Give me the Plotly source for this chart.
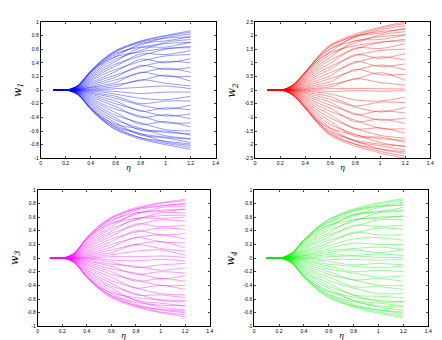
import plotly.graph_objects as go
from plotly.subplots import make_subplots

ETA = [0.1, 0.22, 0.3, 0.4, 0.5, 0.6, 0.8, 1.0, 1.2]

W1 = [
    [0, .005, .07, .28, .45, .58, .72, .80, .87],
    [0, .005, .07, .28, .45, .57, .70, .76, .78],
    [0, .005, .068, .27, .43, .54, .63, .68, .70],
    [0, .004, .066, .26, .40, .49, .56, .61, .62],
    [0, .004, .065, .27, .43, .56, .71, .79, .85],
    [0, .004, .06, .25, .41, .52, .66, .77, .82],
    [0, .004, .055, .23, .38, .49, .68, .72, .78],
    [0, .003, .05, .21, .35, .45, .58, .70, .74],
    [0, .003, .045, .19, .32, .42, .62, .63, .70],
    [0, .003, .04, .17, .29, .38, .50, .60, .64],
    [0, .002, .035, .15, .26, .35, .53, .52, .58],
    [0, .002, .03, .13, .23, .30, .42, .50, .52],
    [0, .002, .025, .11, .19, .27, .45, .40, .46],
    [0, .001, .02, .09, .16, .22, .34, .42, .40],
    [0, .001, .018, .07, .13, .19, .36, .30, .33],
    [0, .001, .014, .05, .10, .15, .25, .32, .26],
    [0, .001, .01, .04, .07, .11, .26, .20, .20],
    [0, 0, .007, .03, .05, .08, .14, .22, .13],
    [0, 0, .004, .015, .03, .05, .15, .10, .06],
    [0, 0, .002, .005, .01, .02, .04, .06, .02],
    [0, 0, -.002, -.006, -.01, -.02, -.05, -.03, -.03],
    [0, 0, -.004, -.016, -.03, -.06, -.12, -.14, -.09],
    [0, 0, -.007, -.03, -.06, -.09, -.20, -.16, -.16],
    [0, -.001, -.01, -.045, -.08, -.12, -.22, -.28, -.22],
    [0, -.001, -.014, -.06, -.11, -.16, -.31, -.26, -.29],
    [0, -.001, -.018, -.08, -.14, -.20, -.30, -.38, -.35],
    [0, -.002, -.022, -.10, -.17, -.24, -.40, -.36, -.42],
    [0, -.002, -.027, -.12, -.21, -.28, -.38, -.48, -.48],
    [0, -.002, -.032, -.14, -.24, -.33, -.50, -.46, -.54],
    [0, -.003, -.037, -.16, -.28, -.37, -.48, -.58, -.60],
    [0, -.003, -.042, -.18, -.31, -.41, -.59, -.60, -.66],
    [0, -.003, -.047, -.20, -.34, -.44, -.56, -.67, -.71],
    [0, -.004, -.052, -.22, -.37, -.48, -.66, -.70, -.77],
    [0, -.004, -.058, -.24, -.40, -.52, -.64, -.76, -.81],
    [0, -.004, -.063, -.26, -.43, -.55, -.70, -.78, -.84],
    [0, -.004, -.066, -.26, -.41, -.50, -.57, -.62, -.64],
    [0, -.005, -.068, -.27, -.43, -.54, -.64, -.69, -.72],
    [0, -.005, -.07, -.28, -.45, -.57, -.70, -.75, -.79],
    [0, -.005, -.07, -.28, -.45, -.58, -.72, -.80, -.87],
]

W2 = [
    [0, .01, .18, .66, 1.22, 1.66, 2.05, 2.30, 2.50],
    [0, .01, .18, .66, 1.20, 1.62, 1.98, 2.14, 2.22],
    [0, .01, .18, .65, 1.16, 1.52, 1.80, 1.96, 2.02],
    [0, .01, .17, .63, 1.08, 1.38, 1.62, 1.76, 1.80],
    [0, .01, .17, .63, 1.17, 1.60, 2.00, 2.26, 2.44],
    [0, .01, .16, .59, 1.10, 1.50, 1.94, 2.20, 2.36],
    [0, .009, .15, .55, 1.02, 1.40, 1.96, 2.08, 2.26],
    [0, .008, .14, .51, .95, 1.30, 1.72, 2.02, 2.14],
    [0, .008, .13, .47, .88, 1.20, 1.80, 1.85, 2.02],
    [0, .007, .12, .43, .80, 1.10, 1.50, 1.74, 1.86],
    [0, .006, .10, .38, .72, .98, 1.54, 1.52, 1.70],
    [0, .005, .09, .34, .63, .86, 1.26, 1.45, 1.50],
    [0, .004, .08, .29, .54, .76, 1.30, 1.16, 1.34],
    [0, .004, .06, .25, .45, .64, 1.00, 1.22, 1.10],
    [0, .003, .05, .20, .36, .52, 1.04, .86, .96],
    [0, .002, .04, .15, .28, .42, .72, .92, .74],
    [0, .002, .03, .11, .20, .30, .76, .56, .58],
    [0, .001, .02, .07, .13, .20, .40, .64, .36],
    [0, .001, .01, .04, .07, .12, .42, .28, .18],
    [0, 0, .005, .015, .03, .05, .06, .05, .04],
    [0, 0, -.005, -.015, -.03, -.05, -.02, -.04, -.02],
    [0, -.001, -.01, -.04, -.08, -.14, -.36, -.40, -.26],
    [0, -.002, -.02, -.08, -.15, -.24, -.58, -.44, -.46],
    [0, -.002, -.03, -.12, -.22, -.34, -.62, -.80, -.64],
    [0, -.003, -.04, -.16, -.30, -.44, -.90, -.76, -.84],
    [0, -.004, -.05, -.21, -.38, -.55, -.86, -1.10, -1.02],
    [0, -.004, -.06, -.26, -.47, -.66, -1.16, -1.06, -1.22],
    [0, -.005, -.08, -.30, -.56, -.78, -1.10, -1.40, -1.42],
    [0, -.006, -.09, -.35, -.65, -.90, -1.42, -1.38, -1.58],
    [0, -.007, -.11, -.40, -.74, -1.02, -1.40, -1.66, -1.76],
    [0, -.008, -.12, -.45, -.83, -1.14, -1.70, -1.72, -1.92],
    [0, -.008, -.14, -.50, -.92, -1.26, -1.62, -1.92, -2.06],
    [0, -.009, -.15, -.54, -1.00, -1.38, -1.88, -2.04, -2.20],
    [0, -.01, -.16, -.58, -1.08, -1.48, -1.86, -2.16, -2.32],
    [0, -.01, -.17, -.62, -1.16, -1.58, -1.98, -2.24, -2.42],
    [0, -.01, -.17, -.63, -1.10, -1.40, -1.64, -1.78, -1.84],
    [0, -.01, -.18, -.65, -1.17, -1.54, -1.84, -1.98, -2.06],
    [0, -.01, -.18, -.66, -1.20, -1.62, -1.98, -2.16, -2.26],
    [0, -.01, -.18, -.66, -1.22, -1.66, -2.05, -2.30, -2.50],
]

W3 = [
    [0, .005, .075, .30, .47, .60, .74, .81, .86],
    [0, .005, .075, .30, .47, .59, .72, .77, .79],
    [0, .005, .073, .29, .45, .56, .66, .70, .71],
    [0, .004, .07, .28, .42, .51, .58, .62, .63],
    [0, .004, .07, .28, .45, .58, .72, .80, .84],
    [0, .004, .065, .26, .42, .54, .70, .76, .80],
    [0, .004, .06, .24, .39, .50, .64, .74, .76],
    [0, .003, .055, .22, .36, .46, .66, .68, .72],
    [0, .003, .05, .20, .33, .43, .56, .66, .66],
    [0, .003, .045, .18, .30, .39, .58, .58, .60],
    [0, .002, .04, .16, .27, .36, .48, .56, .54],
    [0, .002, .035, .14, .24, .32, .50, .46, .48],
    [0, .002, .03, .12, .20, .28, .38, .44, .42],
    [0, .001, .025, .10, .17, .24, .40, .34, .36],
    [0, .001, .02, .08, .14, .20, .30, .34, .28],
    [0, .001, .015, .06, .11, .16, .30, .24, .22],
    [0, .001, .01, .045, .08, .12, .20, .24, .15],
    [0, 0, .007, .03, .055, .08, .20, .14, .10],
    [0, 0, .004, .015, .03, .05, .10, .12, .04],
    [0, 0, .002, .005, .01, .02, .02, .03, .01],
    [0, 0, -.002, -.006, -.012, -.03, -.04, -.02, -.04],
    [0, 0, -.004, -.016, -.03, -.06, -.14, -.10, -.08],
    [0, 0, -.007, -.03, -.06, -.09, -.12, -.18, -.14],
    [0, -.001, -.01, -.045, -.08, -.12, -.24, -.20, -.22],
    [0, -.001, -.014, -.06, -.11, -.16, -.22, -.30, -.26],
    [0, -.001, -.018, -.08, -.14, -.20, -.34, -.30, -.34],
    [0, -.002, -.022, -.10, -.17, -.24, -.32, -.40, -.40],
    [0, -.002, -.027, -.12, -.21, -.28, -.44, -.40, -.46],
    [0, -.002, -.032, -.14, -.24, -.33, -.44, -.52, -.54],
    [0, -.003, -.037, -.16, -.28, -.37, -.54, -.54, -.58],
    [0, -.003, -.042, -.18, -.31, -.41, -.52, -.62, -.64],
    [0, -.003, -.047, -.20, -.34, -.44, -.62, -.66, -.70],
    [0, -.004, -.052, -.22, -.37, -.48, -.62, -.72, -.76],
    [0, -.004, -.058, -.24, -.40, -.52, -.68, -.76, -.80],
    [0, -.004, -.063, -.26, -.43, -.55, -.70, -.79, -.83],
    [0, -.004, -.066, -.27, -.42, -.51, -.58, -.61, -.62],
    [0, -.005, -.068, -.28, -.44, -.55, -.65, -.69, -.70],
    [0, -.005, -.07, -.28, -.45, -.57, -.70, -.75, -.78],
    [0, -.005, -.07, -.28, -.45, -.58, -.72, -.80, -.86],
]

W4 = [
    [0, .005, .07, .27, .44, .57, .72, .81, .87],
    [0, .005, .07, .27, .44, .56, .70, .76, .78],
    [0, .005, .068, .26, .42, .53, .63, .68, .70],
    [0, .004, .066, .25, .39, .48, .56, .60, .61],
    [0, .004, .065, .26, .42, .55, .70, .79, .85],
    [0, .004, .06, .24, .40, .52, .68, .76, .82],
    [0, .004, .055, .22, .37, .48, .62, .74, .78],
    [0, .003, .05, .20, .34, .45, .64, .68, .74],
    [0, .003, .045, .18, .31, .41, .54, .66, .68],
    [0, .003, .04, .16, .28, .37, .56, .58, .62],
    [0, .002, .035, .14, .25, .34, .46, .56, .56],
    [0, .002, .03, .12, .22, .30, .48, .46, .48],
    [0, .002, .025, .10, .18, .26, .36, .44, .42],
    [0, .001, .02, .085, .15, .22, .38, .34, .34],
    [0, .001, .018, .07, .12, .18, .28, .30, .26],
    [0, .001, .014, .05, .09, .14, .22, .20, .20],
    [0, .001, .01, .04, .07, .11, .14, .16, .13],
    [0, 0, .007, .03, .05, .08, .12, .08, .12],
    [0, 0, .004, .015, .03, .05, .04, .06, .04],
    [0, 0, .002, .005, .01, .02, .03, .01, .01],
    [0, 0, -.002, -.006, -.01, -.02, -.02, -.03, -.02],
    [0, 0, -.004, -.016, -.03, -.05, -.10, -.08, -.10],
    [0, 0, -.007, -.03, -.06, -.09, -.12, -.14, -.12],
    [0, -.001, -.01, -.045, -.08, -.12, -.20, -.18, -.20],
    [0, -.001, -.014, -.06, -.11, -.16, -.22, -.28, -.26],
    [0, -.001, -.018, -.08, -.14, -.20, -.32, -.30, -.34],
    [0, -.002, -.022, -.10, -.17, -.24, -.32, -.40, -.40],
    [0, -.002, -.027, -.12, -.21, -.28, -.42, -.42, -.46],
    [0, -.002, -.032, -.14, -.24, -.33, -.44, -.52, -.52],
    [0, -.003, -.037, -.16, -.28, -.37, -.54, -.56, -.58],
    [0, -.003, -.042, -.18, -.31, -.41, -.54, -.64, -.64],
    [0, -.003, -.047, -.20, -.34, -.44, -.62, -.66, -.70],
    [0, -.004, -.052, -.22, -.37, -.48, -.62, -.72, -.76],
    [0, -.004, -.058, -.24, -.40, -.52, -.68, -.76, -.81],
    [0, -.004, -.063, -.26, -.43, -.55, -.70, -.79, -.84],
    [0, -.004, -.066, -.26, -.40, -.49, -.57, -.62, -.64],
    [0, -.005, -.068, -.27, -.43, -.54, -.64, -.70, -.72],
    [0, -.005, -.07, -.28, -.45, -.57, -.70, -.76, -.79],
    [0, -.005, -.07, -.28, -.45, -.58, -.72, -.81, -.87],
]

X_TICKS = [0, 0.2, 0.4, 0.6, 0.8, 1, 1.2, 1.4]
X_LABELS = ["0", "0.2", "0.4", "0.6", "0.8", "1", "1.2", "1.4"]
Y_TICKS = [-1, -0.8, -0.6, -0.4, -0.2, 0, 0.2, 0.4, 0.6, 0.8, 1]
Y_LABELS = ["-1", "-0.8", "-0.6", "-0.4", "-0.2", "0", "0.2", "0.4", "0.6", "0.8", "1"]
Y2_TICKS = [-2.5, -2, -1.5, -1, -0.5, 0, 0.5, 1, 1.5, 2, 2.5]
Y2_LABELS = ["-2.5", "-2", "-1.5", "-1", "-0.5", "0", "0.5", "1", "1.5", "2", "2.5"]

PANELS = [
    (W1, "#0000ff", 1, 1, "w<sub>1</sub>"),
    (W2, "#ff0000", 1, 2, "w<sub>2</sub>"),
    (W3, "#ff00ff", 2, 1, "w<sub>3</sub>"),
    (W4, "#00ee00", 2, 2, "w<sub>4</sub>"),
]

fig = make_subplots(rows=2, cols=2)
for data, color, r, c, lab in PANELS:
    for line in data:
        fig.add_trace(go.Scatter(x=ETA, y=line, mode="lines",
                                 line=dict(color=color, width=0.5, shape="spline",
                                           smoothing=0.8),
                                 opacity=0.8, showlegend=False,
                                 hoverinfo="skip"), row=r, col=c)

# plot-area boxes in pixels: (left, right, top, bottom)
BOX = {
    (1, 1): (32, 209, 11, 150),
    (1, 2): (249, 426, 11, 150),
    (2, 1): (29, 203, 182, 321),
    (2, 2): (248, 424, 182, 321),
}
W, H = 442, 340
axfont = dict(family="Liberation Sans, Arial, sans-serif", size=5, color="black")
xtfont = dict(family="DejaVu Serif, serif", size=8, color="black")
ytfont = dict(family="DejaVu Serif, serif", size=11, color="black")
annotations = []
for data, color, r, c, lab in PANELS:
    l, rr, t, b = BOX[(r, c)]
    xd = [l / W, rr / W]
    yd = [1 - b / H, 1 - t / H]
    is2 = (r, c) == (1, 2)
    fig.update_xaxes(domain=xd, range=[0, 1.4], tickvals=X_TICKS, ticktext=X_LABELS,
                     ticks="inside", ticklen=2, mirror="ticks", showline=True,
                     linecolor="black", linewidth=0.8, showgrid=False, zeroline=False,
                     tickfont=axfont, row=r, col=c)
    fig.update_yaxes(domain=yd,
                     range=[-2.5, 2.5] if is2 else [-1, 1],
                     tickvals=Y2_TICKS if is2 else Y_TICKS,
                     ticktext=Y2_LABELS if is2 else Y_LABELS,
                     ticks="inside", ticklen=2, mirror="ticks", showline=True,
                     linecolor="black", linewidth=0.8, showgrid=False, zeroline=False,
                     tickfont=axfont, row=r, col=c)
    annotations.append(dict(text="<i>η</i>", xref="paper", yref="paper",
                            x=(l + rr) / 2 / W, y=1 - (b + 9.5) / H,
                            xanchor="center", yanchor="middle", showarrow=False,
                            font=xtfont, borderpad=0))
    annotations.append(dict(text="<i>" + lab + "</i>", xref="paper", yref="paper",
                            x=(l - 23) / W, y=1 - (t + b) / 2 / H, textangle=-90,
                            xanchor="center", yanchor="middle", showarrow=False,
                            font=ytfont))

fig.update_layout(width=W, height=H, margin=dict(l=0, r=0, t=0, b=0),
                  plot_bgcolor="white", paper_bgcolor="white",
                  annotations=annotations)
fig.write_html("out.html")
